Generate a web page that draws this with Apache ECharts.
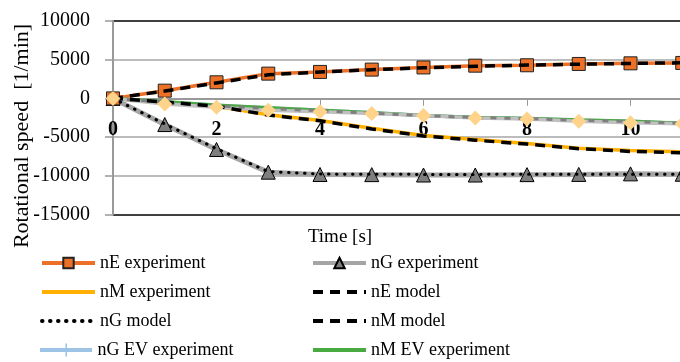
<!DOCTYPE html>
<html><head><meta charset="utf-8">
<script src="https://cdn.jsdelivr.net/npm/echarts@6/dist/echarts.min.js"></script>
<style>html,body{margin:0;padding:0;background:#fff}#c{width:680px;height:362px}</style>
</head><body><div id="c"></div>
<script>
const time      = [0, 1, 2, 3, 4, 5, 6, 7, 8, 9, 10, 11, 12];
const nEExp     = [0, 1000, 2080, 3200, 3420, 3720, 4000, 4230, 4280, 4450, 4530, 4580, 4650];
const nEModel   = [0, 950, 2000, 3050, 3400, 3700, 3950, 4150, 4300, 4420, 4520, 4600, 4660];
const nGExp     = [0, -3380, -6600, -9530, -9830, -9850, -9900, -9900, -9850, -9820, -9750, -9800, -9800];
const nGModel   = [0, -3300, -6500, -9450, -9780, -9800, -9820, -9820, -9800, -9800, -9800, -9800, -9800];
const nMExp     = [0, -500, -1020, -2100, -2860, -3850, -4800, -5320, -5830, -6450, -6740, -6900, -7000];
const nMModel   = [0, -480, -1000, -2150, -2900, -3950, -4850, -5400, -5900, -6500, -6850, -7030, -7100];
const nGEVExp   = [0, -450, -890, -1230, -1530, -1850, -2220, -2480, -2600, -2820, -2950, -3250, -3400];
const nMEVExp   = [0, -430, -870, -1220, -1520, -1840, -2200, -2460, -2600, -2800, -2950, -3230, -3380];
const nEEVExp   = [0, -710, -1150, -1530, -1740, -1960, -2220, -2520, -2650, -2950, -3160, -3290, -3450];
const nGEVModel = [0, -500, -950, -1300, -1600, -1900, -2230, -2470, -2620, -2830, -2980, -3230, -3400];
const yTicks = {min: -15000, max: 10000, step: 5000};
const xTicks = {min: 0, max: 12, step: 2};

const pairs = a => time.map((t, i) => [t, a[i]]);
const FONT = 'Liberation Serif';
const NOSYM = {color: 'rgba(0,0,0,0)', borderColor: 'rgba(0,0,0,0)', borderWidth: 0};

const legendSpec = [
  ['nE experiment', 40, 262, true], ['nG experiment', 311, 262, true],
  ['nM experiment', 40, 291, false], ['nE model', 311, 291, false],
  ['nG model', 40, 320, false], ['nM model', 311, 320, false],
  ['nG EV experiment', 40, 349, false], ['nM EV experiment', 311, 349, false]
];
const legends = legendSpec.map(([name, x, y, sym]) => {
  const item = {name};
  if (name === 'nG EV experiment') {
    item.icon = 'path://M0,4.5 L52,4.5 L52,8.5 L0,8.5 Z M25.5,0 L27,0 L27,13 L25.5,13 Z';
  } else if (!sym) {
    item.itemStyle = NOSYM;
  }
  return {
    data: [item], left: x, top: y - 8, itemWidth: 53, itemHeight: 13, itemGap: 5,
    textStyle: {fontFamily: FONT, fontSize: 18, color: '#000'},
    lineStyle: {width: 4},
    selectedMode: false, padding: 0
  };
});

const chart = echarts.init(document.getElementById('c'), null, {renderer: 'canvas'});
chart.setOption({
  animation: false,
  backgroundColor: '#fff',
  grid: {left: 113, right: -54, top: 21, bottom: 147.5, outerBoundsMode: 'none', containLabel: false},
  legend: legends,
  graphic: [{
    type: 'text', x: 22, y: 136, rotation: Math.PI / 2,
    style: {text: 'Rotational speed  [1/min]', fontFamily: FONT, fontSize: 22, fill: '#000', textAlign: 'center', textVerticalAlign: 'middle'}
  }, {
    type: 'text', x: 340, y: 237,
    style: {text: 'Time [s]', fontFamily: FONT, fontSize: 19, fill: '#000', textAlign: 'center', textVerticalAlign: 'middle'}
  }],
  xAxis: {
    type: 'value', min: xTicks.min, max: xTicks.max, interval: xTicks.step,
    position: 'bottom', offset: -115.7,
    axisLine: {onZero: false, lineStyle: {color: '#999', width: 2}},
    axisTick: {show: true, length: 7, lineStyle: {color: '#999', width: 1}},
    axisLabel: {fontFamily: FONT, fontSize: 20, fontWeight: 'bold', color: '#000', margin: 21},
    splitLine: {show: false}
  },
  yAxis: {
    type: 'value', min: yTicks.min, max: yTicks.max, interval: yTicks.step,
    axisLine: {show: true, onZero: false, lineStyle: {color: '#999', width: 2}},
    axisTick: {show: true, length: 8, lineStyle: {color: '#999', width: 1.5}},
    axisLabel: {fontFamily: FONT, fontSize: 20, color: '#000', margin: 23, formatter: v => String(v)},
    splitLine: {lineStyle: {color: ['#000', '#a6a6a6', '#a6a6a6', '#a6a6a6', '#a6a6a6', '#000'], width: 1.5}}
  },
  series: [
    {name: 'nG experiment', type: 'line', z: 2, data: pairs(nGExp), color: '#a5a5a5',
     lineStyle: {color: '#a5a5a5', width: 5}, symbol: 'triangle', symbolSize: 14,
     itemStyle: {color: '#7f7f7f', borderColor: '#000', borderWidth: 1}},
    {name: 'nM experiment', type: 'line', z: 2, data: pairs(nMExp), color: '#ffb000',
     lineStyle: {color: '#ffb000', width: 3.5}, symbol: 'none'},
    {name: 'nE experiment', type: 'line', z: 2, data: pairs(nEExp), color: '#ec7025',
     lineStyle: {color: '#ec7025', width: 3.5}, symbol: 'rect', symbolSize: 13,
     itemStyle: {color: '#ec7025', borderColor: '#222', borderWidth: 1}},
    {name: 'nG EV experiment', type: 'line', z: 2, data: pairs(nGEVExp), color: '#9dc3e6',
     lineStyle: {color: '#9dc3e6', width: 3.5}, symbol: 'none'},
    {name: 'nM EV experiment', type: 'line', z: 2, data: pairs(nMEVExp), color: '#4aaa42',
     lineStyle: {color: '#4aaa42', width: 3.5}, symbol: 'none'},
    {name: 'nE EV experiment', type: 'line', z: 3, data: pairs(nEEVExp), color: '#c0c0c0',
     lineStyle: {color: '#c0c0c0', width: 3.5}, symbol: 'none'},
    {name: 'nG EV model', type: 'line', z: 3, data: pairs(nGEVModel), color: '#7f7f7f',
     lineStyle: {color: '#7f7f7f', width: 3, type: [6, 8]}, symbol: 'none'},
    {name: 'nG model', type: 'line', z: 4, data: pairs(nGModel), color: '#000',
     lineStyle: {color: '#000', width: 3, type: [0.5, 7.5], cap: 'round'}, symbol: 'none'},
    {name: 'nM model', type: 'line', z: 4, data: pairs(nMModel), color: '#000',
     lineStyle: {color: '#000', width: 3.5, type: [10, 7]}, symbol: 'none'},
    {name: 'nE model', type: 'line', z: 4, data: pairs(nEModel), color: '#000',
     lineStyle: {color: '#000', width: 3.5, type: [10, 7]}, symbol: 'none'},
    {name: 'nE EV markers', type: 'line', z: 5, data: pairs(nEEVExp), color: '#ffd38a',
     lineStyle: {width: 0, opacity: 0}, symbol: 'diamond', symbolSize: 15,
     itemStyle: {color: '#ffd38a'}}
  ]
});
</script></body></html>
